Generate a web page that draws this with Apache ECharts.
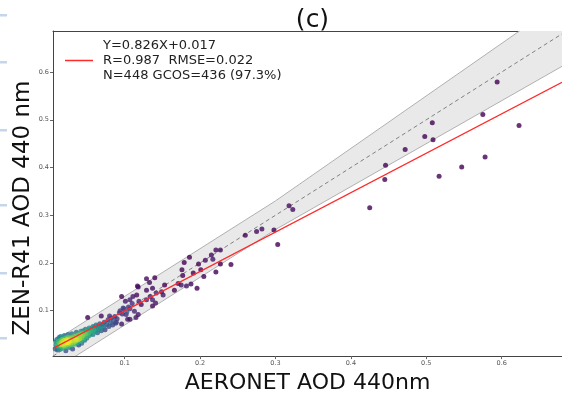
<!DOCTYPE html>
<html>
<head>
<meta charset="utf-8">
<script src="https://cdn.jsdelivr.net/npm/echarts@6/dist/echarts.min.js"></script>
<style>html,body{margin:0;padding:0;background:#fff;}#c{width:562px;height:399px;}</style>
</head>
<body>
<div id="c"></div>
<script>
// ---- data ----
const ptX = [
0.594,0.575,0.623,0.508,0.498,0.509,0.472,0.446,0.445,0.578,0.547,0.517,0.425,
0.318,0.323,0.298,0.282,0.275,0.303,0.260,0.227,0.221,0.215,0.207,0.217,0.186,
0.179,0.198,0.227,0.241,0.176,0.191,0.201,0.205,0.221,0.177,0.171,0.175,0.182,
0.188,0.196,0.166,0.153,0.149,0.151,0.140,0.133,0.129,0.137,0.142,0.134,0.129,
0.137,0.141,0.137,0.118,0.116,0.111,0.119,0.122,0.110,0.107,0.101,0.096,0.098,
0.107,0.113,0.118,0.102,0.107,0.093,0.129,0.117,0.051,0.069,0.080,0.115,0.104,
0.089,0.096,0.094,0.097,0.099,0.103,0.105,
0.008,0.009,0.009,0.010,0.010,0.011,0.011,0.012,0.012,0.013,0.013,0.014,0.014,0.015,0.015,0.015,
0.016,0.016,0.017,0.017,0.018,0.018,0.018,0.019,0.019,0.020,0.020,0.020,0.021,0.021,0.022,0.022,
0.022,0.023,0.023,0.024,0.024,0.025,0.025,0.025,
0.026,0.026,0.027,0.027,0.028,0.028,0.029,0.029,0.030,0.030,0.030,0.031,0.031,0.032,0.032,0.033,
0.033,0.034,0.034,0.035,0.035,
0.036,0.036,0.037,0.037,0.038,0.038,0.039,0.039,0.040,0.040,0.041,0.041,0.042,0.042,0.043,0.043,
0.044,0.044,0.045,0.045,
0.046,0.046,0.047,0.047,0.048,0.048,0.049,0.050,0.050,0.051,0.051,0.052,0.053,0.053,0.054,0.055,
0.056,0.057,0.058,0.058,0.059,0.060,0.061,0.062,0.063,0.064,0.065,0.066,0.067,0.068,0.069,0.070,
0.072,0.073,0.074,0.076,0.078,0.079,0.081,0.082,0.084,0.085,0.087,0.088,0.090
];
const ptY = [
0.579,0.511,0.488,0.494,0.465,0.458,0.438,0.405,0.375,0.422,0.401,0.382,0.316,
0.320,0.312,0.269,0.271,0.266,0.239,0.258,0.227,0.227,0.217,0.206,0.208,0.212,
0.201,0.198,0.198,0.197,0.186,0.179,0.186,0.172,0.181,0.174,0.157,0.154,0.152,
0.156,0.147,0.143,0.154,0.140,0.133,0.169,0.159,0.143,0.147,0.137,0.130,0.123,
0.123,0.116,0.110,0.150,0.133,0.130,0.120,0.113,0.115,0.123,0.120,0.130,0.106,
0.104,0.099,0.092,0.092,0.082,0.096,0.167,0.152,0.086,0.089,0.089,0.086,0.082,
0.076,0.072,0.100,0.093,0.104,0.098,0.108,
0.020,0.028,0.035,0.024,0.040,0.030,0.018,0.036,0.026,0.044,0.022,0.032,0.038,0.028,0.046,0.020,
0.034,0.025,0.040,0.030,0.022,0.036,0.045,0.028,0.033,0.038,0.026,0.048,0.031,0.042,0.035,0.024,
0.016,0.039,0.029,0.044,0.033,0.027,0.037,0.050,
0.032,0.041,0.036,0.023,0.045,0.030,0.039,0.034,0.028,0.043,0.052,0.037,0.020,0.041,0.033,0.046,
0.038,0.030,0.042,0.049,0.036,
0.040,0.055,0.033,0.045,0.048,0.039,0.028,0.044,0.051,0.041,0.046,0.036,0.057,0.049,0.043,0.032,
0.053,0.047,0.040,0.058,
0.050,0.044,0.055,0.038,0.052,0.061,0.047,0.056,0.043,0.060,0.051,0.054,0.048,0.064,0.058,0.052,
0.062,0.056,0.067,0.050,0.060,0.065,0.057,0.070,0.062,0.054,0.068,0.061,0.073,0.064,0.058,0.070,
0.066,0.076,0.060,0.071,0.081,0.067,0.075,0.085,0.070,0.079,0.088,0.074,0.083
];
const xTicks = [0.1, 0.2, 0.3, 0.4, 0.5, 0.6];
const yTicks = [0.1, 0.2, 0.3, 0.4, 0.5, 0.6];
const fitSlope = 0.826, fitIntercept = 0.017;
const fitX = [0.005, 0.68];
const oneX = [0.005, 0.69];
// GCOS envelope max(0.03, 10%)
const bandX = [0.005, 0.3, 0.69];
const bandUpper = [0.035, 0.33, 0.759];
const bandLower = [-0.025, 0.27, 0.621];
const legendLines = ['Y=0.826X+0.017', 'R=0.987  RMSE=0.022', 'N=448 GCOS=436 (97.3%)'];

// ---- density colouring (neighbour count) ----
const r2 = 0.011 * 0.011;
let pts = ptX.map((x, i) => {
  let c = 0;
  for (let j = 0; j < ptX.length; j++) {
    const dx = ptX[j] - x, dy = ptY[j] - ptY[i];
    if (dx * dx + dy * dy < r2) c++;
  }
  return [x, ptY[i], c];
});
pts.sort((a, b) => a[2] - b[2]);
const maxC = Math.max.apply(null, pts.map(p => p[2]));

const FONT = 'DejaVu Sans';
const chart = echarts.init(document.getElementById('c'));
const axisCommon = {
  axisLine: { show: true, lineStyle: { color: '#444', width: 1 } },
  axisTick: { show: true, inside: false, length: 3, lineStyle: { color: '#666' } },
  axisLabel: { fontSize: 6.5, color: '#555', fontFamily: FONT, margin: 4, formatter: v => String(+v.toFixed(1)) },
  splitLine: { show: false }
};
chart.setOption({
  animation: false,
  backgroundColor: '#fff',
  title: { text: '(c)', left: 307.5, textAlign: 'center', top: 3,
    textStyle: { fontFamily: FONT, fontSize: 25, fontWeight: 'normal', color: '#111' } },
  grid: { left: 53, right: 0, top: 31, bottom: 34 },
  legend: {
    left: 65, top: 38, padding: 0, itemWidth: 28, itemHeight: 1.5, icon: 'rect',
    data: ['fit'],
    formatter: () => legendLines.join('\n'),
    textStyle: { fontFamily: FONT, fontSize: 13, lineHeight: 15, color: '#222', padding: [0, 0, 0, 5] }
  },
  xAxis: [
    Object.assign({}, axisCommon, {
      type: 'value', min: 0.005, max: 0.68,
      axisTick: Object.assign({}, axisCommon.axisTick, { customValues: xTicks }),
      axisLabel: Object.assign({}, axisCommon.axisLabel, { customValues: xTicks }),
      name: 'AERONET AOD 440nm', nameLocation: 'middle', nameGap: 14,
      nameTextStyle: { fontFamily: FONT, fontSize: 22, color: '#111', verticalAlign: 'top' }
    }),
    { type: 'value', position: 'top', min: 0.005, max: 0.68,
      axisLine: { show: true, lineStyle: { color: '#444', width: 1 } },
      axisTick: { show: false }, axisLabel: { show: false }, splitLine: { show: false } }
  ],
  yAxis: Object.assign({}, axisCommon, {
    type: 'value', min: 0.005, max: 0.686,
    axisTick: Object.assign({}, axisCommon.axisTick, { customValues: yTicks }),
    axisLabel: Object.assign({}, axisCommon.axisLabel, { customValues: yTicks })
  }),
  visualMap: {
    show: false, type: 'continuous', seriesIndex: 2, dimension: 2, min: 1, max: maxC,
    inRange: { color: ['#440154', '#46327e', '#365c8d', '#277f8e', '#1fa187', '#4ac16d', '#a0da39', '#fde725'] }
  },
  series: [
    {
      type: 'custom', name: 'band', clip: true, silent: true, z: 1,
      data: [[0, 0]],
      renderItem: function (params, api) {
        const p = [];
        for (let i = 0; i < bandX.length; i++) p.push(api.coord([bandX[i], bandUpper[i]]));
        for (let i = bandX.length - 1; i >= 0; i--) p.push(api.coord([bandX[i], bandLower[i]]));
        return { type: 'polygon', shape: { points: p },
          style: { fill: '#e9e9e9', stroke: '#b0b0b0', lineWidth: 1 } };
      }
    },
    {
      type: 'line', name: '1:1', symbol: 'none', z: 2, clip: true,
      data: oneX.map(x => [x, x]),
      lineStyle: { color: '#808080', width: 1, type: [4, 3] }
    },
    {
      type: 'scatter', name: 'pts', symbolSize: 5, z: 3,
      data: pts
    },
    {
      type: 'line', name: 'fit', symbol: 'none', z: 4, clip: true,
      data: fitX.map(x => [x, fitSlope * x + fitIntercept]),
      lineStyle: { color: '#ff2a2a', width: 1.2 },
      itemStyle: { color: '#ff2a2a' }
    }
  ],
  graphic: [
    { type: 'text', x: 23, y: 208, rotation: Math.PI / 2,
      style: { text: 'ZEN-R41 AOD 440 nm', fontFamily: FONT, fontSize: 23, fill: '#111', align: 'center', verticalAlign: 'middle' } },
    { type: 'rect', shape: { x: 0, y: 14, width: 7, height: 2.5 }, style: { fill: '#c5d6ea' } },
    { type: 'rect', shape: { x: 0, y: 61, width: 7, height: 2.5 }, style: { fill: '#c5d6ea' } },
    { type: 'rect', shape: { x: 0, y: 129, width: 7, height: 2.5 }, style: { fill: '#c5d6ea' } },
    { type: 'rect', shape: { x: 0, y: 204, width: 7, height: 2.5 }, style: { fill: '#c5d6ea' } },
    { type: 'rect', shape: { x: 0, y: 272, width: 7, height: 2.5 }, style: { fill: '#c5d6ea' } },
    { type: 'rect', shape: { x: 0, y: 337, width: 7, height: 2.5 }, style: { fill: '#c5d6ea' } }
  ]
});
</script>
</body>
</html>
